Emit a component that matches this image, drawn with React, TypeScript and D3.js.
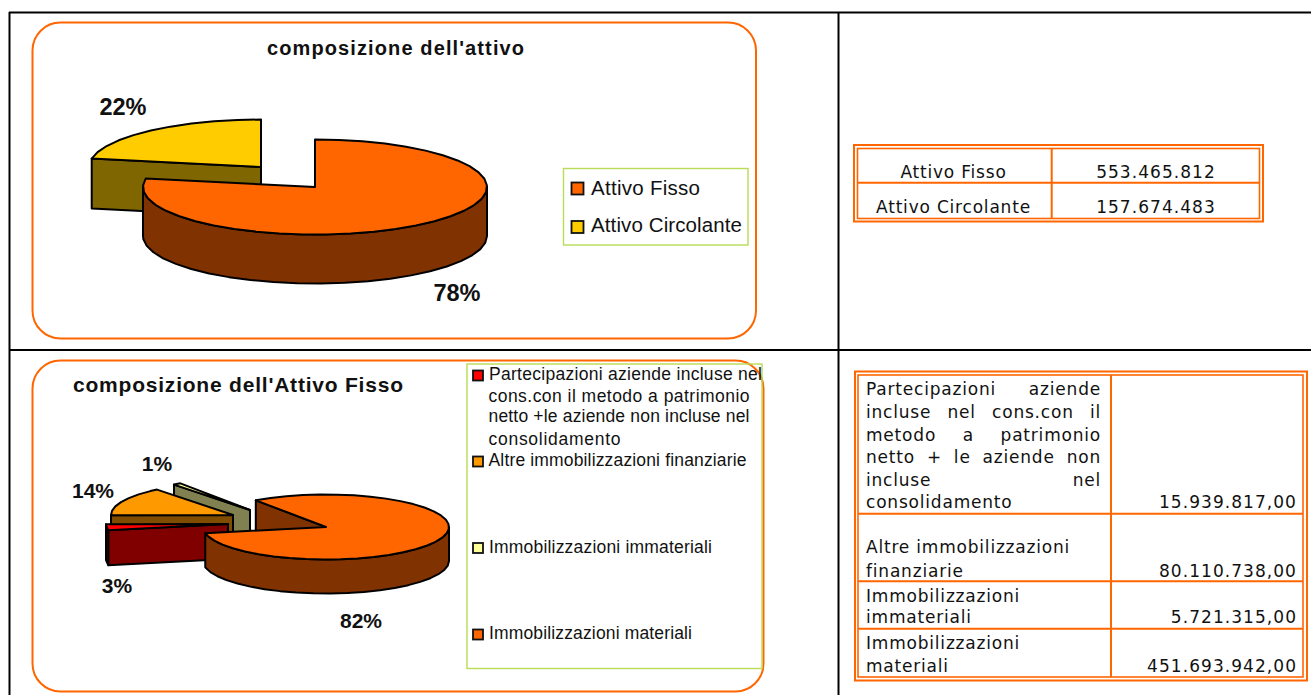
import React from "react";
import * as d3 from "d3";

// ---- data ----
const attivoLabels = ["Attivo Fisso", "Attivo Circolante"];
const attivoValues = [553465812, 157674483];
const attivoPercent = ["78%", "22%"];
const attivoTable = ["553.465.812", "157.674.483"];

const fissoLabels = [
  "Partecipazioni aziende incluse nel cons.con il metodo a patrimonio netto + le aziende non incluse nel consolidamento",
  "Altre immobilizzazioni finanziarie",
  "Immobilizzazioni immateriali",
  "Immobilizzazioni materiali",
];
const fissoValues = [15939817, 80110738, 5721315, 451693942];
const fissoPercent = ["3%", "14%", "1%", "82%"];
const fissoTable = ["15.939.817,00", "80.110.738,00", "5.721.315,00", "451.693.942,00"];

// ---- styles ----
const ORANGE = "#FF6600";
const GREEN = "#B8DC55";
const SANS = "'Liberation Sans', Arial, sans-serif";
const VERD = "'DejaVu Sans', Verdana, sans-serif";
const attivoTop = ["#FF6600", "#FFCC00"];
const attivoWall = ["#803300", "#806600"];
const fissoTop = ["#FF0000", "#FF9900", "#FFFF99", "#FF6600"];
const fissoWall = ["#800000", "#804C00", "#808050", "#803300"];

const rad = (d: number) => (d * Math.PI) / 180;
const STEP = rad(8);

type Geo = { cx: number; cy: number; rx: number; ry: number; depth: number };

function Slice({ arc, geo, top, wall }: { arc: any; geo: Geo; top: string; wall: string }) {
  const x = d3.scaleLinear().domain([-1, 1]).range([geo.cx - geo.rx, geo.cx + geo.rx]);
  const y = d3.scaleLinear().domain([-1, 1]).range([geo.cy - geo.ry, geo.cy + geo.ry]);
  const pt = (a: number, dz = 0): [number, number] => [x(Math.sin(a)), y(-Math.cos(a)) + dz];
  const line = d3.line().curve(d3.curveLinear);
  const a0 = arc.startAngle;
  const a1 = arc.endAngle;
  const sweep = (lo: number, hi: number, dz = 0) => {
    const out = d3.range(lo, hi, STEP).map((a) => pt(a, dz));
    out.push(pt(hi, dz));
    return out;
  };
  const c: [number, number] = [geo.cx, geo.cy];
  const cd: [number, number] = [geo.cx, geo.cy + geo.depth];
  const faces: string[] = [];
  if (-Math.sin(a0) > 0.001) faces.push(line([c, pt(a0), pt(a0, geo.depth), cd])! + "Z");
  if (Math.sin(a1) > 0.001) faces.push(line([c, pt(a1), pt(a1, geo.depth), cd])! + "Z");
  const walls: string[] = [];
  for (const k of [0, 1]) {
    const lo = Math.max(a0, rad(90 + 360 * k));
    const hi = Math.min(a1, rad(270 + 360 * k));
    if (hi > lo) {
      walls.push(line([...sweep(lo, hi), ...sweep(lo, hi, geo.depth).reverse()])! + "Z");
    }
  }
  const topPath = line([c, ...sweep(a0, a1)])! + "Z";
  const common = { stroke: "#000", strokeWidth: 2, strokeLinejoin: "round" as const };
  return (
    <g>
      {faces.map((d, i) => <path key={"f" + i} d={d} fill={wall} {...common} />)}
      {walls.map((d, i) => <path key={"w" + i} d={d} fill={wall} {...common} />)}
      <path d={topPath} fill={top} {...common} />
    </g>
  );
}

function T({ x, y, w, size, bold, anchor, family, children, ls }: any) {
  return (
    <text
      x={x} y={y}
      fontFamily={family || SANS}
      fontSize={size}
      fontWeight={bold ? 700 : 400}
      textAnchor={anchor || "start"}
      textLength={w}
      lengthAdjust={w ? "spacing" : undefined}
      letterSpacing={ls}
      fill="#111"
    >
      {children}
    </text>
  );
}

const TABLE_SIZE = 17;
const TEXT_LS = 0.8;
const NUM_LS = 1.05;
let ctx: CanvasRenderingContext2D | null = null;
function measure(word: string) {
  if (!ctx) ctx = document.createElement("canvas").getContext("2d");
  ctx!.font = `${TABLE_SIZE}px 'DejaVu Sans'`;
  return ctx!.measureText(word).width + TEXT_LS * word.length;
}

function Justified({ line, x, y, width }: { line: string; x: number; y: number; width: number }) {
  const words = line.split(" ");
  const widths = words.map(measure);
  const gap = (width - d3.sum(widths)) / (words.length - 1);
  let cur = x;
  return (
    <g>
      {words.map((w, i) => {
        const node = (
          <T key={i} x={cur} y={y} size={TABLE_SIZE} family={VERD} ls={TEXT_LS}>{w}</T>
        );
        cur += widths[i] + gap;
        return node;
      })}
    </g>
  );
}

function DoubleFrame({ x0, x1, y0, y1, ix0, ix1, iy0, iy1, divX, rows }: any) {
  const p = { fill: "none", stroke: ORANGE };
  return (
    <g>
      <rect x={x0} y={y0} width={x1 - x0} height={y1 - y0} {...p} strokeWidth={2} />
      <rect x={ix0} y={iy0} width={ix1 - ix0} height={iy1 - iy0} {...p} strokeWidth={1.6} />
      <line x1={divX} x2={divX} y1={iy0} y2={iy1} stroke={ORANGE} strokeWidth={2} />
      {rows.map((r: number) => (
        <line key={r} x1={ix0} x2={ix1} y1={r} y2={r} stroke={ORANGE} strokeWidth={2} />
      ))}
    </g>
  );
}

function Swatch({ x, y, s, fill }: any) {
  return <rect x={x} y={y} width={s} height={s} fill={fill} stroke="#111" strokeWidth={1.8} />;
}

export default function App() {
  const pie = d3.pie<number>().sort(null).value((d) => d);
  const arcsA = pie.startAngle(0).endAngle(2 * Math.PI)(attivoValues);
  const arcsF = pie.startAngle(rad(259)).endAngle(rad(619))(fissoValues);

  const geoA: Geo[] = [
    { cx: 315, cy: 187, rx: 172, ry: 47.5, depth: 49 },
    { cx: 261, cy: 167, rx: 172, ry: 47.5, depth: 50 },
  ];
  const geoF: Geo[] = [
    { cx: 228, cy: 524, rx: 122, ry: 32.5, depth: 35 },
    { cx: 233, cy: 515, rx: 122, ry: 32.5, depth: 34 },
    { cx: 250, cy: 510, rx: 122, ry: 32.5, depth: 34 },
    { cx: 326, cy: 527, rx: 123, ry: 32.5, depth: 34 },
  ];
  const drawOrderF = [2, 1, 0, 3];

  const t2x = 866;
  const t2w = 235;

  return (
    <svg width={1311} height={695} style={{ position: "absolute", left: 0, top: 0, display: "block" }}>
      <rect width={1311} height={695} fill="#fff" />

      {/* outer grid */}
      <g stroke="#000" strokeWidth={2}>
        <line x1={9} x2={1311} y1={12.5} y2={12.5} />
        <line x1={9.5} x2={9.5} y1={12} y2={695} />
        <line x1={9} x2={1311} y1={350} y2={350} />
        <line x1={838.5} x2={838.5} y1={12} y2={695} />
      </g>

      {/* first chart */}
      <rect x={32.5} y={22.5} width={723.5} height={316} rx={28} fill="#fff" stroke={ORANGE} strokeWidth={2} />
      <T x={267} y={55} w={257} size={20} bold>composizione dell'attivo</T>
      <Slice arc={arcsA[1]} geo={geoA[1]} top={attivoTop[1]} wall={attivoWall[1]} />
      <Slice arc={arcsA[0]} geo={geoA[0]} top={attivoTop[0]} wall={attivoWall[0]} />
      <T x={123} y={115} size={23.5} bold anchor="middle">{attivoPercent[1]}</T>
      <T x={457} y={301} size={23.5} bold anchor="middle">{attivoPercent[0]}</T>
      <rect x={563.5} y={168.5} width={184.5} height={76.5} fill="none" stroke={GREEN} strokeWidth={1.4} />
      <Swatch x={571.5} y={182.5} s={12} fill={attivoTop[0]} />
      <Swatch x={571.5} y={221} s={12} fill={attivoTop[1]} />
      <T x={591} y={195} w={109} size={20.5}>{attivoLabels[0]}</T>
      <T x={591} y={232} w={151} size={20.5}>{attivoLabels[1]}</T>

      {/* second chart */}
      <rect x={32.5} y={360.5} width={731} height={331} rx={28} fill="#fff" stroke={ORANGE} strokeWidth={2} />
      <T x={73} y={392} w={330} size={21} bold>composizione dell'Attivo Fisso</T>
      {drawOrderF.map((i) => (
        <Slice key={i} arc={arcsF[i]} geo={geoF[i]} top={fissoTop[i]} wall={fissoWall[i]} />
      ))}
      <T x={157} y={471} size={21} bold anchor="middle">{fissoPercent[2]}</T>
      <T x={93} y={498} size={21} bold anchor="middle">{fissoPercent[1]}</T>
      <T x={117} y={593} size={21} bold anchor="middle">{fissoPercent[0]}</T>
      <T x={361} y={628} size={21} bold anchor="middle">{fissoPercent[3]}</T>
      <rect x={467} y={364} width={295} height={304.5} fill="none" stroke={GREEN} strokeWidth={1.4} />
      <Swatch x={473} y={370.5} s={10} fill={fissoTop[0]} />
      <Swatch x={473} y={456.5} s={10} fill={fissoTop[1]} />
      <Swatch x={473} y={543} s={10} fill={fissoTop[2]} />
      <Swatch x={473} y={629.5} s={10} fill={fissoTop[3]} />
      <T x={489} y={380} w={273} size={17.5}>Partecipazioni aziende  incluse nel</T>
      <T x={488.5} y={402} w={261} size={17.5}>cons.con il metodo a patrimonio</T>
      <T x={488.5} y={422} w={261} size={17.5}>netto +le aziende non incluse nel</T>
      <T x={488.5} y={445} w={132} size={17.5}>consolidamento</T>
      <T x={488.5} y={466} w={258} size={17.5}>{fissoLabels[1]}</T>
      <T x={489} y={553} w={223} size={17.5}>{fissoLabels[2]}</T>
      <T x={489} y={639} w={203} size={17.5}>{fissoLabels[3]}</T>

      {/* first table */}
      <DoubleFrame x0={854} x1={1263} y0={145} y1={221.5} ix0={857.5} ix1={1259.5} iy0={148.5} iy1={218.5} divX={1051.7} rows={[182.7]} />
      <T x={953.5} y={178} size={TABLE_SIZE} family={VERD} ls={TEXT_LS} anchor="middle">{attivoLabels[0]}</T>
      <T x={953.5} y={213} size={TABLE_SIZE} family={VERD} ls={TEXT_LS} anchor="middle">{attivoLabels[1]}</T>
      <T x={1156} y={178} size={TABLE_SIZE} family={VERD} ls={NUM_LS} anchor="middle">{attivoTable[0]}</T>
      <T x={1156} y={213} size={TABLE_SIZE} family={VERD} ls={NUM_LS} anchor="middle">{attivoTable[1]}</T>

      {/* second table */}
      <DoubleFrame x0={855} x1={1307} y0={371.5} y1={680.5} ix0={858} ix1={1303} iy0={375} iy1={677} divX={1111} rows={[513.7, 581.3, 628.7]} />
      <Justified line="Partecipazioni aziende" x={t2x} y={395} width={t2w} />
      <Justified line="incluse nel cons.con il" x={t2x} y={418} width={t2w} />
      <Justified line="metodo a patrimonio" x={t2x} y={441} width={t2w} />
      <Justified line="netto + le aziende non" x={t2x} y={463} width={t2w} />
      <Justified line="incluse nel" x={t2x} y={486} width={t2w} />
      <T x={t2x} y={508} size={TABLE_SIZE} family={VERD} ls={TEXT_LS}>consolidamento</T>
      <T x={t2x} y={553} size={TABLE_SIZE} family={VERD} ls={TEXT_LS}>Altre immobilizzazioni</T>
      <T x={t2x} y={576.5} size={TABLE_SIZE} family={VERD} ls={TEXT_LS}>finanziarie</T>
      <T x={t2x} y={601.5} size={TABLE_SIZE} family={VERD} ls={TEXT_LS}>Immobilizzazioni</T>
      <T x={t2x} y={623} size={TABLE_SIZE} family={VERD} ls={TEXT_LS}>immateriali</T>
      <T x={t2x} y={648.5} size={TABLE_SIZE} family={VERD} ls={TEXT_LS}>Immobilizzazioni</T>
      <T x={t2x} y={671.5} size={TABLE_SIZE} family={VERD} ls={TEXT_LS}>materiali</T>
      <T x={1297} y={508} size={TABLE_SIZE} family={VERD} ls={NUM_LS} anchor="end">{fissoTable[0]}</T>
      <T x={1297} y={576.5} size={TABLE_SIZE} family={VERD} ls={NUM_LS} anchor="end">{fissoTable[1]}</T>
      <T x={1297} y={623} size={TABLE_SIZE} family={VERD} ls={NUM_LS} anchor="end">{fissoTable[2]}</T>
      <T x={1297} y={671.5} size={TABLE_SIZE} family={VERD} ls={NUM_LS} anchor="end">{fissoTable[3]}</T>
    </svg>
  );
}
